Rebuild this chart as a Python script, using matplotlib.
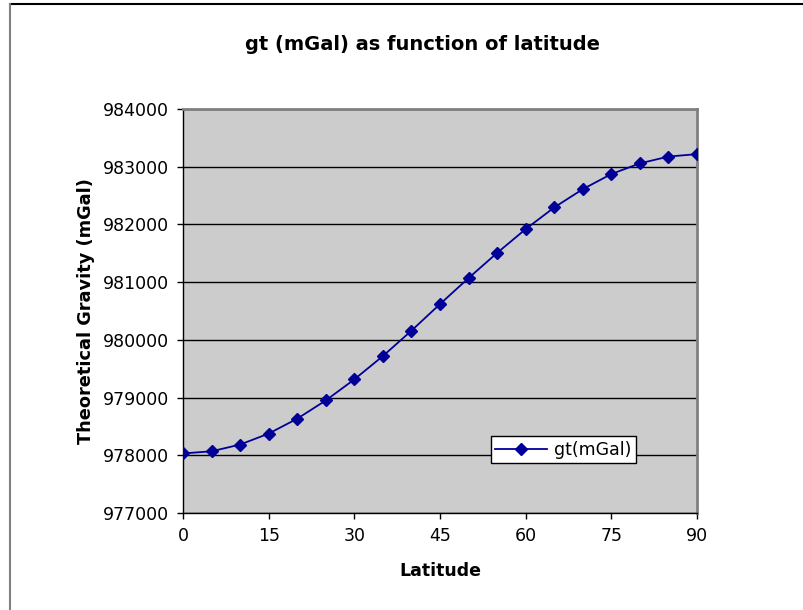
import matplotlib
matplotlib.use("Agg")
import matplotlib.pyplot as plt
from matplotlib.lines import Line2D

latitude = [0, 5, 10, 15, 20, 25, 30, 35, 40, 45, 50, 55, 60, 65, 70, 75, 80, 85, 90]
gt_mgal = [978032, 978069, 978186, 978376, 978634, 978950, 979315, 979719, 980159,
           980620, 981071, 981506, 981919, 982294, 982611, 982873, 983058, 983176, 983218]
x_ticks = [0, 15, 30, 45, 60, 75, 90]
y_ticks = [977000, 978000, 979000, 980000, 981000, 982000, 983000, 984000]

plt.rcParams['font.family'] = ['DejaVu Sans']

fig = plt.figure(figsize=(8.04, 6.10), dpi=100)
fig.patch.set_facecolor('white')

# outer chart frame (top and left visible)
fig.add_artist(Line2D([10/804, 1.0], [1-4/610, 1-4/610], color='black', lw=1.5, transform=fig.transFigure))
fig.add_artist(Line2D([10/804, 10/804], [0.0, 1-4/610], color='#808080', lw=1.5, transform=fig.transFigure))

ax = fig.add_axes([183/804, 1-513/610, (697-183)/804, (513-109)/610])
ax.set_facecolor('#cccccc')

ax.plot(latitude, gt_mgal, color='#000099', lw=1.3, marker='D', markersize=6.5,
        markerfacecolor='#000099', markeredgecolor='#000099', label='gt(mGal)', zorder=3)

ax.set_xlim(0, 90)
ax.set_ylim(977000, 984000)
ax.set_xticks(x_ticks)
ax.set_yticks(y_ticks)
ax.set_xticklabels([str(v) for v in x_ticks], fontsize=12.5)
ax.set_yticklabels([str(v) for v in y_ticks], fontsize=12.5)
ax.yaxis.grid(True, color='black', lw=1)
ax.set_axisbelow(True)
ax.tick_params(axis='both', direction='out', length=4, width=1, color='black', pad=6)

for side in ['left', 'bottom']:
    ax.spines[side].set_color('black')
    ax.spines[side].set_linewidth(1)
for side in ['top', 'right']:
    ax.spines[side].set_color('#808080')
    ax.spines[side].set_linewidth(2)

ax.set_xlabel('Latitude', fontsize=12.5, fontweight='bold', labelpad=12)
ax.set_ylabel('Theoretical Gravity (mGal)', fontsize=12.8, fontweight='bold', labelpad=6)

fig.text(0.525, 1-44/610, 'gt (mGal) as function of latitude', fontsize=14, fontweight='bold',
         ha='center', va='center')

leg = ax.legend(loc='lower left', bbox_to_anchor=((491-183)/514, (513-463)/404), fontsize=12.5,
                frameon=True, fancybox=False, edgecolor='black', framealpha=1,
                borderpad=0.25, handlelength=3.0, handletextpad=0.4, borderaxespad=0)
leg.get_frame().set_linewidth(1)

fig.savefig('out.png', dpi=100)
